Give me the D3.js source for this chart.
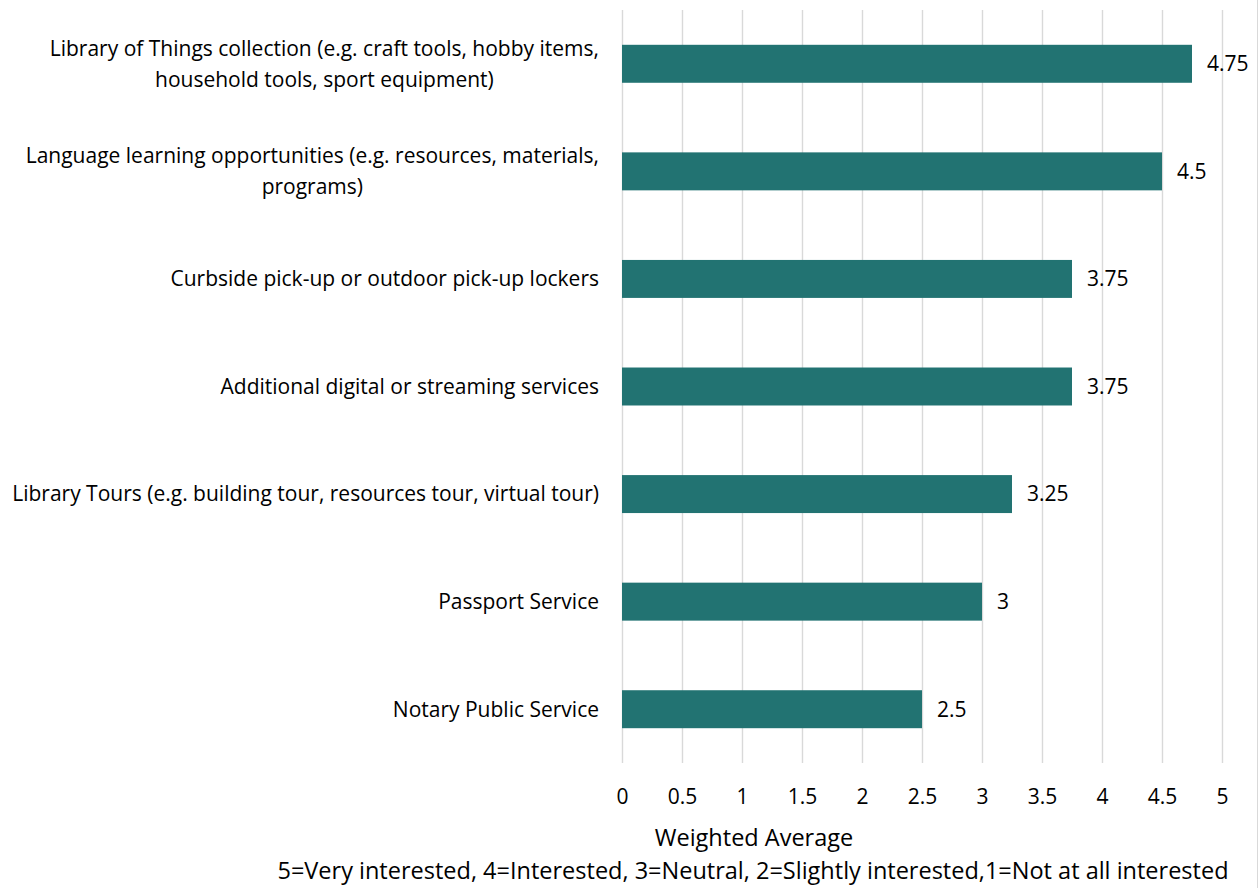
<!DOCTYPE html>
<html>
<head>
<meta charset="utf-8">
<script src="https://cdn.jsdelivr.net/npm/d3@7"></script>
<style>
  html, body { margin: 0; padding: 0; background: #fff; }
  svg { display: block; }
  text { font-family: "Open Sans", Lato, sans-serif; fill: #000; }
</style>
</head>
<body>
<svg id="chart" width="1260" height="888"></svg>
<script>
// Services, each label split into the lines it is printed on
const categories = [
  ["Library of Things collection (e.g. craft tools, hobby items,", "household tools, sport equipment)"],
  ["Language learning opportunities (e.g. resources, materials,", "programs)"],
  ["Curbside pick-up or outdoor pick-up lockers"],
  ["Additional digital or streaming services"],
  ["Library Tours (e.g. building tour, resources tour, virtual tour)"],
  ["Passport Service"],
  ["Notary Public Service"]
];
const values = [4.75, 4.5, 3.75, 3.75, 3.25, 3, 2.5];
const valueLabels = ["4.75", "4.5", "3.75", "3.75", "3.25", "3", "2.5"];
const tickValues = [0, 0.5, 1, 1.5, 2, 2.5, 3, 3.5, 4, 4.5, 5];
const tickLabels = ["0", "0.5", "1", "1.5", "2", "2.5", "3", "3.5", "4", "4.5", "5"];
const axisTitle = ["Weighted Average",
  "5=Very interested, 4=Interested, 3=Neutral, 2=Slightly interested,1=Not at all interested"];

const svg = d3.select("#chart");
const FS = 21;        // labels and ticks
const TITLE_FS = 23.5; // axis title
const plot = { left: 622, right: 1222, top: 10, bottom: 763 };
const LABEL_RIGHT = 599;

const x = d3.scaleLinear().domain([0, 5]).range([plot.left, plot.right]);
const y = d3.scaleBand()
  .domain(d3.range(categories.length))
  .range([plot.top, plot.bottom])
  .paddingInner(0.647)
  .paddingOuter(0.3235);

// outer frame edge on the right
svg.append("line")
  .attr("x1", 1257.5).attr("x2", 1257.5)
  .attr("y1", 0).attr("y2", 888)
  .attr("stroke", "#d9d9d9").attr("stroke-width", 1);

// vertical gridlines
svg.append("g")
  .selectAll("line")
  .data(tickValues)
  .join("line")
  .attr("x1", d => Math.round(x(d)) + 0.5)
  .attr("x2", d => Math.round(x(d)) + 0.5)
  .attr("y1", plot.top)
  .attr("y2", plot.bottom)
  .attr("stroke", "#d9d9d9")
  .attr("stroke-width", 1.4);

// bars
svg.append("g")
  .selectAll("rect")
  .data(values)
  .join("rect")
  .attr("x", x(0))
  .attr("y", (d, i) => y(i))
  .attr("width", d => x(d) - x(0))
  .attr("height", y.bandwidth())
  .attr("fill", "#227372");

// value labels
svg.append("g")
  .selectAll("text")
  .data(values)
  .join("text")
  .attr("x", d => x(d) + 15)
  .attr("y", (d, i) => y(i) + y.bandwidth() / 2)
  .attr("dy", "0.35em")
  .attr("font-size", FS)
  .text((d, i) => valueLabels[i]);

// category labels: the block sits flush right, its lines centred on each other
const catG = svg.append("g");
categories.forEach((lines, i) => {
  const cy = y(i) + y.bandwidth() / 2;
  const lh = 31;
  const t = catG.append("text")
    .attr("text-anchor", "middle")
    .attr("font-size", FS);
  const spans = lines.map((ln, j) =>
    t.append("tspan")
      .attr("y", cy + (j - (lines.length - 1) / 2) * lh)
      .attr("dy", "0.35em")
      .text(ln));
  const widest = d3.max(spans, s => s.node().getComputedTextLength());
  spans.forEach(s => s.attr("x", LABEL_RIGHT - widest / 2));
});

// x axis tick labels
const xAxis = d3.axisBottom(x)
  .tickValues(tickValues)
  .tickFormat((d, i) => tickLabels[i])
  .tickSize(0)
  .tickPadding(0);
const axG = svg.append("g")
  .attr("transform", `translate(0,${plot.bottom + 34})`)
  .call(xAxis);
axG.select(".domain").remove();
axG.selectAll("text")
  .attr("font-size", FS)
  .attr("font-family", "'Open Sans', Lato, sans-serif")
  .attr("fill", "#000")
  .attr("dy", "0.35em")
  .attr("y", 0);

// axis title
svg.append("text")
  .attr("x", 754).attr("y", 838).attr("dy", "0.35em")
  .attr("text-anchor", "middle").attr("font-size", TITLE_FS)
  .text(axisTitle[0]);
svg.append("text")
  .attr("x", 753).attr("y", 871).attr("dy", "0.35em")
  .attr("text-anchor", "middle").attr("font-size", TITLE_FS)
  .text(axisTitle[1]);
</script>
</body>
</html>
